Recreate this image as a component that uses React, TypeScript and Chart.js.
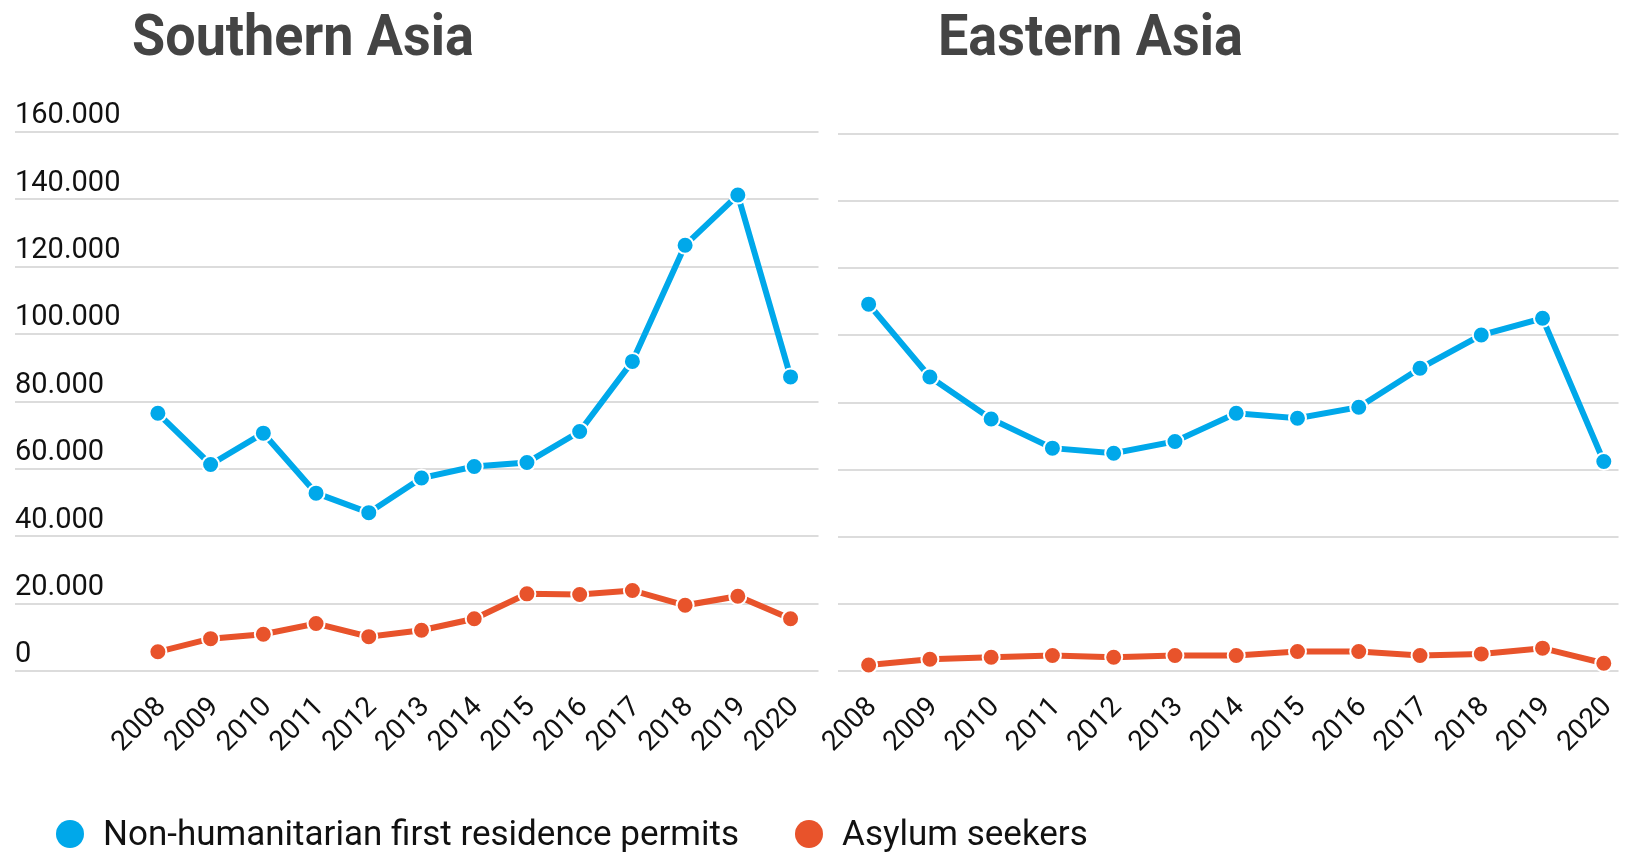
import React, { useEffect, useRef } from 'react';
import { Chart, registerables } from 'chart.js';

Chart.register(...registerables);

const years = [2008, 2009, 2010, 2011, 2012, 2013, 2014, 2015, 2016, 2017, 2018, 2019, 2020];
const seriesNames = ['Non-humanitarian first residence permits', 'Asylum seekers'];
const seriesColors = ['#00A8EA', '#E8532B'];
const panelTitles = ['Southern Asia', 'Eastern Asia'];
const yTicks = [0, 20000, 40000, 60000, 80000, 100000, 120000, 140000, 160000];

const southernPermits = [76500, 61300, 70600, 52800, 47000, 57300, 60700, 61900, 71100, 91900, 126400, 141300, 87300];
const southernAsylum = [5700, 9600, 10900, 14100, 10200, 12100, 15500, 22900, 22700, 23900, 19500, 22200, 15500];
const easternPermits = [109300, 87600, 75100, 66400, 64900, 68400, 76800, 75300, 78600, 90200, 100100, 105100, 62400];
const easternAsylum = [1800, 3500, 4100, 4600, 4100, 4600, 4600, 5800, 5800, 4600, 5100, 6800, 2300];

const fmt = (v: number) => String(v).replace(/\B(?=(\d{3})+(?!\d))/g, '.');

type PanelProps = {
  permits: number[];
  asylum: number[];
  showY: boolean;
  left: number;
  width: number;
  pad: { left: number; right: number; top: number };
  xMin: number;
  xMax: number;
};

function Panel({ permits, asylum, showY, left, width, pad, xMin, xMax }: PanelProps) {
  const ref = useRef<HTMLCanvasElement | null>(null);
  useEffect(() => {
    if (!ref.current) return;
    const mk = (vals: number[], i: number) => ({
      label: seriesNames[i],
      data: years.map((y, k) => ({ x: y, y: vals[k] })),
      borderColor: seriesColors[i],
      backgroundColor: seriesColors[i],
      borderWidth: 6,
      pointRadius: 8.5,
      pointBorderWidth: 2,
      pointBorderColor: '#ffffff',
      pointBackgroundColor: seriesColors[i],
      tension: 0,
      clip: false as any,
    });
    const chart = new Chart(ref.current, {
      type: 'line',
      data: { datasets: [mk(asylum, 1), mk(permits, 0)] },
      options: {
        animation: false,
        responsive: false,
        devicePixelRatio: 1,
        layout: { padding: { left: pad.left, right: pad.right, top: pad.top, bottom: 0 } },
        plugins: { legend: { display: false }, tooltip: { enabled: false }, title: { display: false } },
        scales: {
          x: {
            type: 'linear',
            min: xMin,
            max: xMax,
            grid: { display: false, drawTicks: false },
            border: { display: false },
            afterBuildTicks: (axis: any) => {
              axis.ticks = years.map((v) => ({ value: v }));
            },
            afterFit: (axis: any) => {
              axis.height = 855 - 671;
              axis.paddingLeft = 0;
              axis.paddingRight = 0;
            },
            ticks: {
              autoSkip: false,
              minRotation: 45,
              maxRotation: 45,
              padding: 20,
              labelOffset: 4,
              color: '#111111',
              font: { family: 'Roboto', size: 28 },
              callback: (v: any) => String(v),
            },
          },
          y: {
            min: 0,
            max: 160000,
            afterBuildTicks: (axis: any) => {
              axis.ticks = yTicks.map((v) => ({ value: v }));
            },
            afterFit: (axis: any) => {
              axis.width = 0;
              axis.paddingTop = 0;
              axis.paddingBottom = 0;
            },
            grid: { color: '#dcdcdc', lineWidth: 2, drawTicks: false },
            border: { display: false },
            ticks: {
              display: showY,
              mirror: true,
              padding: 0,
              labelOffset: -16,
              color: '#111111',
              font: { family: 'Roboto', size: 29 },
              callback: (v: any) => fmt(Number(v)),
            },
          },
        },
      },
    } as any);
    return () => chart.destroy();
  }, []);
  return (
    <canvas
      ref={ref}
      width={width}
      height={855}
      style={{ position: 'absolute', left, top: 0, width, height: 855 }}
    />
  );
}

export default function App() {
  const titleStyle: React.CSSProperties = {
    position: 'absolute',
    top: 6,
    margin: 0,
    fontFamily: 'Roboto',
    fontWeight: 700,
    fontSize: 58,
    lineHeight: '58px',
    color: '#444444',
    whiteSpace: 'nowrap',
    transform: 'scaleX(0.93)',
    transformOrigin: '0 0',
  };
  const legendText: React.CSSProperties = {
    fontFamily: 'Roboto',
    fontSize: 35,
    lineHeight: '40px',
    color: '#111111',
    whiteSpace: 'nowrap',
  };
  const dot = (c: string): React.CSSProperties => ({
    width: 28,
    height: 28,
    borderRadius: '50%',
    background: c,
    marginRight: 19,
    flex: '0 0 auto',
  });
  return (
    <div style={{ position: 'absolute', left: 0, top: 0, width: 1629, height: 855, background: '#ffffff', overflow: 'hidden' }}>
      <Panel
        permits={southernPermits}
        asylum={southernAsylum}
        showY={true}
        left={0}
        width={829}
        pad={{ left: 15, right: 10, top: 132 }}
        xMin={2005.29}
        xMax={2020.53}
      />
      <Panel
        permits={easternPermits}
        asylum={easternAsylum}
        showY={false}
        left={780}
        width={849}
        pad={{ left: 58, right: 0, top: 134 }}
        xMin={2007.5}
        xMax={2020.24}
      />
      <div style={{ ...titleStyle, left: 132 }}>{panelTitles[0]}</div>
      <div style={{ ...titleStyle, left: 938 }}>{panelTitles[1]}</div>
      <div style={{ position: 'absolute', left: 56, top: 814, display: 'flex', alignItems: 'center' }}>
        <div style={dot(seriesColors[0])} />
        <span style={legendText}>{seriesNames[0]}</span>
        <div style={{ ...dot(seriesColors[1]), marginLeft: 56 }} />
        <span style={legendText}>{seriesNames[1]}</span>
      </div>
    </div>
  );
}
